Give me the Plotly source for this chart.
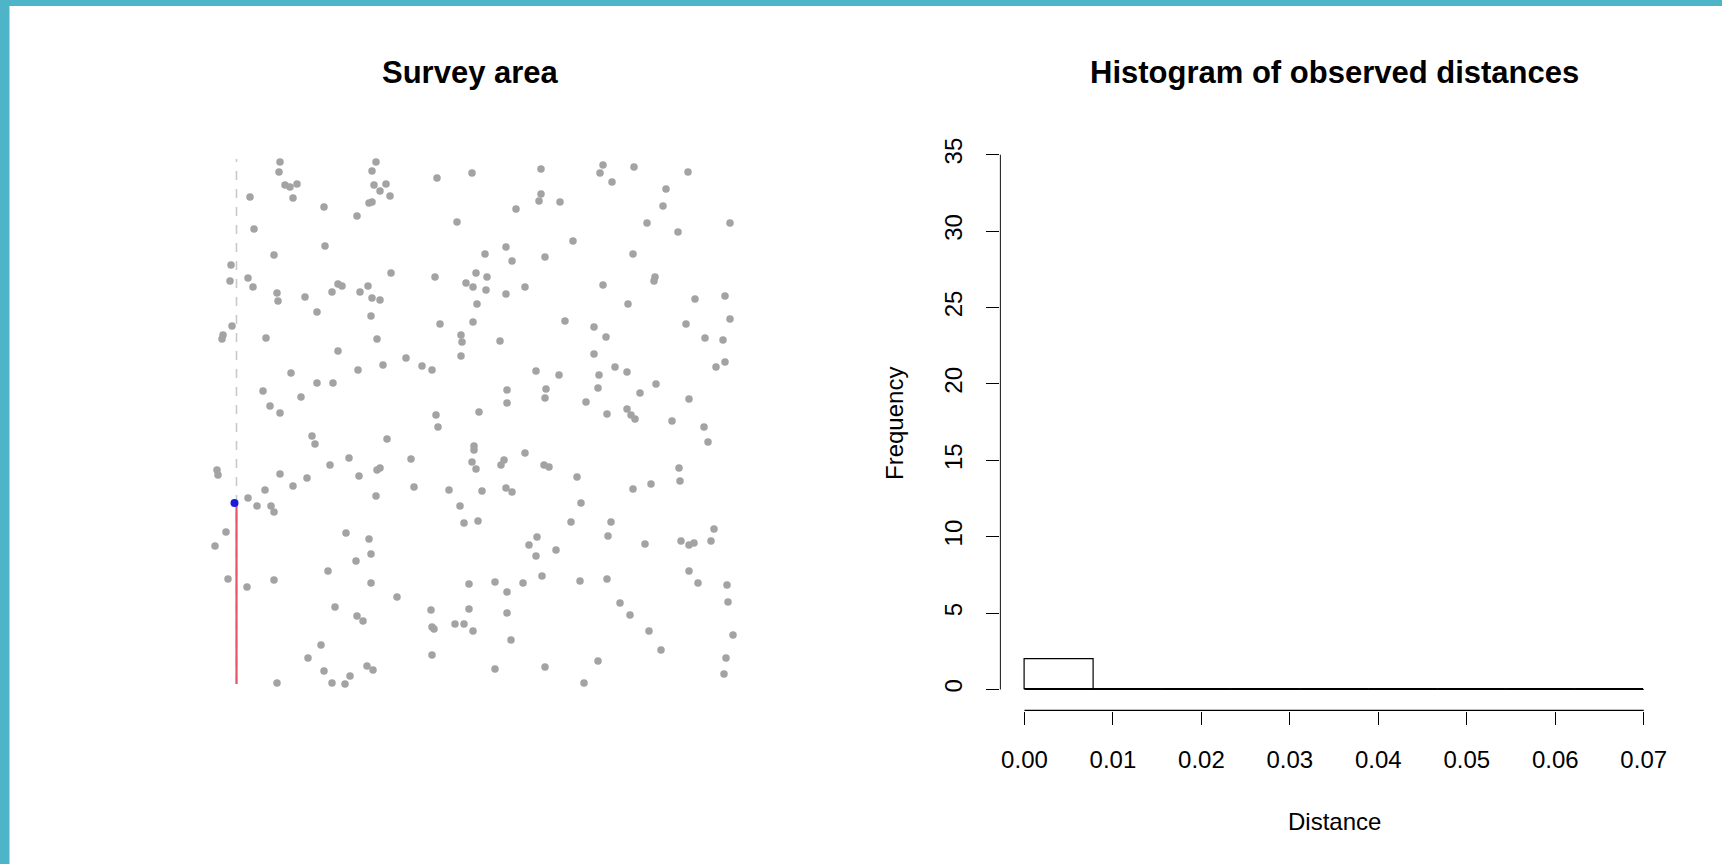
import plotly.graph_objects as go

# ---------------- data ----------------
# animal positions in the survey area (survey units, x 0-520, y 0-528)
animal_xy = [
    (66,524),(65,514),(71,501),(76,499),(83,502),(79,488),(36,489),(110,479),(40,457),(111,440),
    (60,431),(17,421),(34,408),(16,405),(39,399),(63,393),(64,385),(91,389),(118,394),(124,402),
    (128,400),(146,394),(154,400),(158,388),(166,386),(177,413),(157,370),(103,374),(18,360),(9,351),
    (8,347),(52,348),(163,347),(124,335),(77,313),(144,316),(169,321),(192,328),(208,320),(218,316),
    (103,303),(119,303),(49,295),(87,289),(56,280),(66,273),(222,271),(224,259),(162,524),(158,515),
    (160,501),(172,502),(166,495),(176,490),(155,483),(158,484),(143,470),(223,508),(243,464),(221,409),
    (252,403),(226,362),(247,351),(248,344),(247,330),
    (258,513),(327,517),(389,521),(386,513),(420,519),(398,504),(474,514),(452,497),(449,480),(327,492),
    (325,485),(346,484),(302,477),(433,463),(516,463),(464,454),(359,445),(419,432),(292,439),(271,432),
    (298,425),(331,429),(262,413),(273,409),(259,399),(272,396),(292,392),(311,399),(263,382),(259,364),
    (389,401),(441,409),(440,405),(414,382),(481,387),(511,390),(472,362),(516,367),(351,365),(380,359),
    (392,349),(286,345),(491,348),(509,346),(380,332),(502,319),(511,324),(401,319),(413,314),(322,315),
    (345,311),(385,311),(293,296),(332,297),(384,298),(442,302),(426,293),(293,283),(331,288),(372,284),
    (475,287),(265,274),(393,272),(413,277),(417,271),(421,267),(458,265),(490,259),
    (98,250),(101,242),(173,247),(135,228),(116,221),(197,227),(163,216),(166,218),(145,210),(93,208),
    (66,212),(3,216),(4,211),(79,200),(51,196),(34,188),(43,180),(57,180),(60,174),(200,199),
    (235,196),(162,190),(246,180),(250,163),(12,154),(1,140),(132,153),(155,147),(157,132),(142,125),
    (114,115),(14,107),(33,99),(60,106),(157,103),(183,89),(121,79),(143,70),(149,65),(217,76),
    (255,102),(255,77),(218,59),(220,57),(241,62),(250,62),(259,55),(107,41),(94,28),(218,31),
    (110,15),(153,20),(159,16),(136,10),(118,3),(131,2),(63,3),
    (494,244),(260,240),(260,236),(258,224),(262,217),(287,221),(290,226),(311,233),(330,221),(335,219),
    (363,209),(268,195),(292,198),(298,194),(367,183),(419,197),(437,202),(465,218),(466,205),(264,165),
    (357,164),(397,164),(394,150),(323,149),(315,141),(322,130),(342,136),(431,142),(467,145),(475,141),
    (480,143),(497,145),(500,157),(475,115),(484,103),(513,101),(514,84),(281,104),(293,94),(309,103),
    (328,110),(366,105),(393,107),(293,73),(406,83),(416,71),(297,46),(435,55),(447,36),(519,51),
    (384,25),(512,28),(510,12),(281,17),(331,19),(370,3),
]
animal_x = [p[0] for p in animal_xy]
animal_y = [p[1] for p in animal_xy]

transect_x = [22.5, 22.5]
transect_y = [2, 527]          # full transect (dashed)
walked_y = [2, 183]            # part already walked (red)
detected_x = [20.5]
detected_y = [183]

# histogram of observed distances
bin_left = [0.0, 0.00778, 0.01556, 0.02333, 0.03111, 0.03889, 0.04667, 0.05444, 0.06222]
bin_width = 0.00778
counts = [2, 0, 0, 0, 0, 0, 0, 0, 0]
hist_edges = [0.0, 0.07]
x_ticks = [0.00, 0.01, 0.02, 0.03, 0.04, 0.05, 0.06, 0.07]
y_ticks = [0, 5, 10, 15, 20, 25, 30, 35]

# ---------------- figure ----------------
FONT = "Liberation Sans, Arial, Helvetica, sans-serif"
W, H = 1722, 864
TEAL = "#4eb4c8"
fig = go.Figure()

# survey panel
fig.add_trace(go.Scatter(x=transect_x, y=transect_y, mode="lines",
                         line=dict(color="#c9c9c9", width=1.6, dash="dash"),
                         xaxis="x", yaxis="y", showlegend=False, hoverinfo="skip"))
fig.add_trace(go.Scatter(x=transect_x, y=walked_y, mode="lines",
                         line=dict(color="#e5566a", width=2.2),
                         xaxis="x", yaxis="y", showlegend=False, hoverinfo="skip"))
fig.add_trace(go.Scatter(x=animal_x, y=animal_y, mode="markers", cliponaxis=False,
                         marker=dict(color="#a3a3a3", size=7.5, line=dict(width=0)),
                         xaxis="x", yaxis="y", showlegend=False))
fig.add_trace(go.Scatter(x=detected_x, y=detected_y, mode="markers", cliponaxis=False,
                         marker=dict(color="#1a1adb", size=8, line=dict(width=0)),
                         xaxis="x", yaxis="y", showlegend=False))

# histogram panel
xr = [-0.0028, 0.0728]
yr = [-1.4, 36.4]
fig.add_trace(go.Bar(x=bin_left, y=counts, width=[bin_width] * len(counts), offset=0,
                     marker=dict(color="white", line=dict(color="black", width=1.2)),
                     xaxis="x2", yaxis="y2", showlegend=False))
fig.add_trace(go.Scatter(x=hist_edges, y=[0, 0], mode="lines",
                         line=dict(color="black", width=1.2),
                         xaxis="x2", yaxis="y2", showlegend=False, hoverinfo="skip"))
# R-style axis lines (span only the tick range)
fig.add_trace(go.Scatter(x=[xr[0] + 0.00006] * 2, y=[y_ticks[0], y_ticks[-1]], mode="lines",
                         line=dict(color="black", width=1.2),
                         xaxis="x2", yaxis="y2", showlegend=False, hoverinfo="skip"))
fig.add_trace(go.Scatter(x=[x_ticks[0], x_ticks[-1]], y=[yr[0] + 0.04] * 2, mode="lines",
                         line=dict(color="black", width=1.2),
                         xaxis="x2", yaxis="y2", showlegend=False, hoverinfo="skip"))

axis_font = dict(family=FONT, size=24, color="black")

fig.update_layout(
    width=W, height=H, margin=dict(l=0, r=0, t=0, b=0),
    paper_bgcolor="white", plot_bgcolor="white",
    font=dict(family=FONT, color="black"),
    bargap=0,
    xaxis=dict(domain=[214 / W, 734 / W], range=[0, 520], visible=False, fixedrange=True),
    yaxis=dict(domain=[1 - 686 / H, 1 - 158 / H], range=[0, 528], visible=False, fixedrange=True),
    xaxis2=dict(domain=[999.7 / W, 1668.5 / W], range=xr, anchor="y2",
                showgrid=False, zeroline=False, showline=False,
                tickmode="array", tickvals=x_ticks, ticktext=[f"{v:.2f}" for v in x_ticks],
                ticks="outside", ticklen=13, tickwidth=1.2, tickcolor="black",
                ticklabelstandoff=14, tickfont=axis_font),
    yaxis2=dict(domain=[1 - 710.9 / H, 1 - 133.3 / H], range=yr, anchor="x2",
                showgrid=False, zeroline=False, showline=False,
                tickmode="array", tickvals=y_ticks, ticktext=[str(v) for v in y_ticks],
                ticks="outside", ticklen=13, tickwidth=1.2, tickcolor="black",
                tickangle=-90, ticklabelstandoff=14, tickfont=axis_font),
    shapes=[
        dict(type="rect", xref="paper", yref="paper", x0=0, x1=1, y0=1 - 6 / H, y1=1,
             fillcolor=TEAL, line=dict(width=0), layer="above"),
        dict(type="rect", xref="paper", yref="paper", x0=0, x1=9.5 / W, y0=0, y1=1,
             fillcolor=TEAL, line=dict(width=0), layer="above"),
    ],
    annotations=[
        dict(text="<b>Survey area</b>", x=471 / W, y=1 - 72.5 / H, xref="paper", yref="paper",
             showarrow=False, xanchor="center", yanchor="middle",
             font=dict(family=FONT, size=31, color="black")),
        dict(text="<b>Histogram of observed distances</b>", x=1334 / W, y=1 - 72.5 / H,
             xref="paper", yref="paper", showarrow=False, xanchor="center", yanchor="middle",
             font=dict(family=FONT, size=31, color="black")),
        dict(text="Frequency", x=895 / W, y=1 - 423 / H, xref="paper", yref="paper",
             showarrow=False, textangle=-90, xanchor="center", yanchor="middle", font=axis_font),
        dict(text="Distance", x=1334 / W, y=1 - 821 / H, xref="paper", yref="paper",
             showarrow=False, xanchor="center", yanchor="middle", font=axis_font),
    ],
)

fig.write_html("out.html", config={"displayModeBar": False},
               post_script="document.body.style.margin='0';document.body.style.overflow='hidden';")
